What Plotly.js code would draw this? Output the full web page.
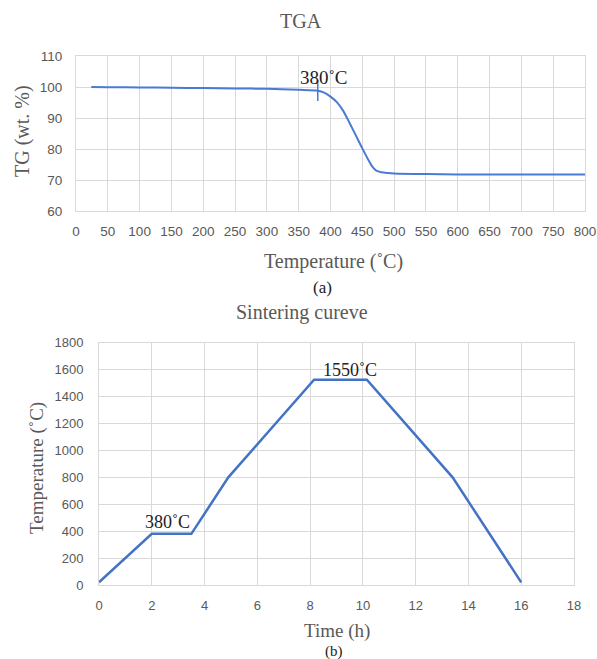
<!DOCTYPE html>
<html>
<head>
<meta charset="utf-8">
<script src="https://cdn.plot.ly/plotly-3.0.1.min.js"></script>
<style>html,body{margin:0;padding:0;background:#fff;}#chart{width:597px;height:659px;}</style>
</head>
<body>
<div id="chart"></div>
<script>
// ---- TGA data (a) ----
const tgaTemp = [24, 50, 100, 150, 200, 250, 300, 350, 380, 390, 400, 410, 420, 430, 440, 450, 460, 466, 472, 480, 490, 500, 550, 600, 650, 700, 750, 800];
const tgaWeight = [100.0, 99.95, 99.85, 99.75, 99.65, 99.55, 99.4, 99.1, 98.8, 98.2, 96.9, 95.1, 92.3, 88.4, 84.3, 80.2, 76.3, 74.2, 73.0, 72.5, 72.25, 72.1, 71.9, 71.8, 71.8, 71.8, 71.8, 71.8];
const tgaMarkT = [380];
const tgaMarkW = [98.9];
const tgaLabel = ["380˚C"];
const tgaLabelT = [390];
const tgaLabelW = [103];

// ---- Sintering data (b) ----
const timeH = [0, 2, 3.5, 4.9, 8.15, 10.15, 13.4, 16];
const tempC = [20, 380, 380, 800, 1525, 1525, 800, 20];
const sintLabels = ["380˚C", "1550˚C"];
const sintLabelX = [2.6, 9.5];
const sintLabelY = [470, 1600];

const W = 597, H = 659;
const px = x => x / W;
const py = y => 1 - y / H;

const blue = '#4472C4';
const tgaBlue = '#4a7bd3';
const grid = '#d9d9d9';
const tickFont = {family: 'Liberation Sans, Arial, sans-serif', size: 13.5, color: '#595959'};
const serif = 'Liberation Serif, Times New Roman, serif';

const traces = [
  {x: tgaTemp, y: tgaWeight, type: 'scatter', mode: 'lines', line: {color: tgaBlue, width: 2, shape: 'spline', smoothing: 0.8}, xaxis: 'x', yaxis: 'y', hoverinfo: 'none'},
  {x: tgaMarkT, y: tgaMarkW, type: 'scatter', mode: 'markers', marker: {symbol: 'line-ns-open', size: 15, color: tgaBlue, line: {color: tgaBlue, width: 1.5}}, xaxis: 'x', yaxis: 'y', hoverinfo: 'none'},
  {x: timeH, y: tempC, type: 'scatter', mode: 'lines', line: {color: blue, width: 2.5}, xaxis: 'x2', yaxis: 'y2', hoverinfo: 'none'}
];

const axisCommon = {
  showgrid: true, gridcolor: grid, gridwidth: 1,
  showline: true, linecolor: grid, linewidth: 1, mirror: true,
  zeroline: false, ticks: '', fixedrange: true, automargin: false
};

function paperText(text, x, y, size, color, angle) {
  return {text: text, x: px(x), y: py(y), xref: 'paper', yref: 'paper', xanchor: 'center', yanchor: 'middle',
          showarrow: false, textangle: angle || 0, font: {family: serif, size: size, color: color}};
}

const annotations = [
  paperText('TGA', 301, 21, 20, '#595959'),
  paperText('TG (wt. %)', 22, 131, 20, '#595959', -90),
  paperText('Temperature (˚C)', 333, 261, 20, '#595959'),
  paperText('(a)', 322, 287, 17, '#222'),
  paperText('Sintering cureve', 302, 313, 20, '#595959'),
  paperText('Temperature (˚C)', 37, 468, 19, '#595959', -90),
  paperText('Time (h)', 337, 631, 19, '#595959'),
  paperText('(b)', 334, 651, 15, '#222')
];
tgaLabel.forEach((t, i) => annotations.push({text: t, x: tgaLabelT[i], y: tgaLabelW[i], xref: 'x', yref: 'y', xanchor: 'center', yanchor: 'middle', showarrow: false, font: {family: serif, size: 19, color: '#222'}}));
sintLabels.forEach((t, i) => annotations.push({text: t, x: sintLabelX[i], y: sintLabelY[i], xref: 'x2', yref: 'y2', xanchor: 'center', yanchor: 'middle', showarrow: false, font: {family: serif, size: 18, color: '#222'}}));

const layout = {
  width: W, height: H,
  margin: {l: 0, r: 0, t: 0, b: 0},
  paper_bgcolor: '#fff', plot_bgcolor: '#fff',
  showlegend: false,
  xaxis: Object.assign({}, axisCommon, {domain: [px(76), px(585)], range: [0, 800], dtick: 50, tick0: 0, anchor: 'y', tickfont: tickFont, ticklabelstandoff: 8}),
  yaxis: Object.assign({}, axisCommon, {domain: [py(211), py(56)], range: [60, 110], dtick: 10, tick0: 60, anchor: 'x', tickfont: tickFont, ticklabelstandoff: 10}),
  xaxis2: Object.assign({}, axisCommon, {domain: [px(99), px(574)], range: [0, 18], dtick: 2, tick0: 0, anchor: 'y2', tickfont: Object.assign({}, tickFont, {size: 13}), ticklabelstandoff: 8}),
  yaxis2: Object.assign({}, axisCommon, {domain: [py(585), py(342.7)], range: [0, 1800], dtick: 200, tick0: 0, anchor: 'x2', tickfont: Object.assign({}, tickFont, {size: 13}), ticklabelstandoff: 12}),
  annotations: annotations
};

Plotly.newPlot('chart', traces, layout, {displayModeBar: false, staticPlot: true});
</script>
</body>
</html>
